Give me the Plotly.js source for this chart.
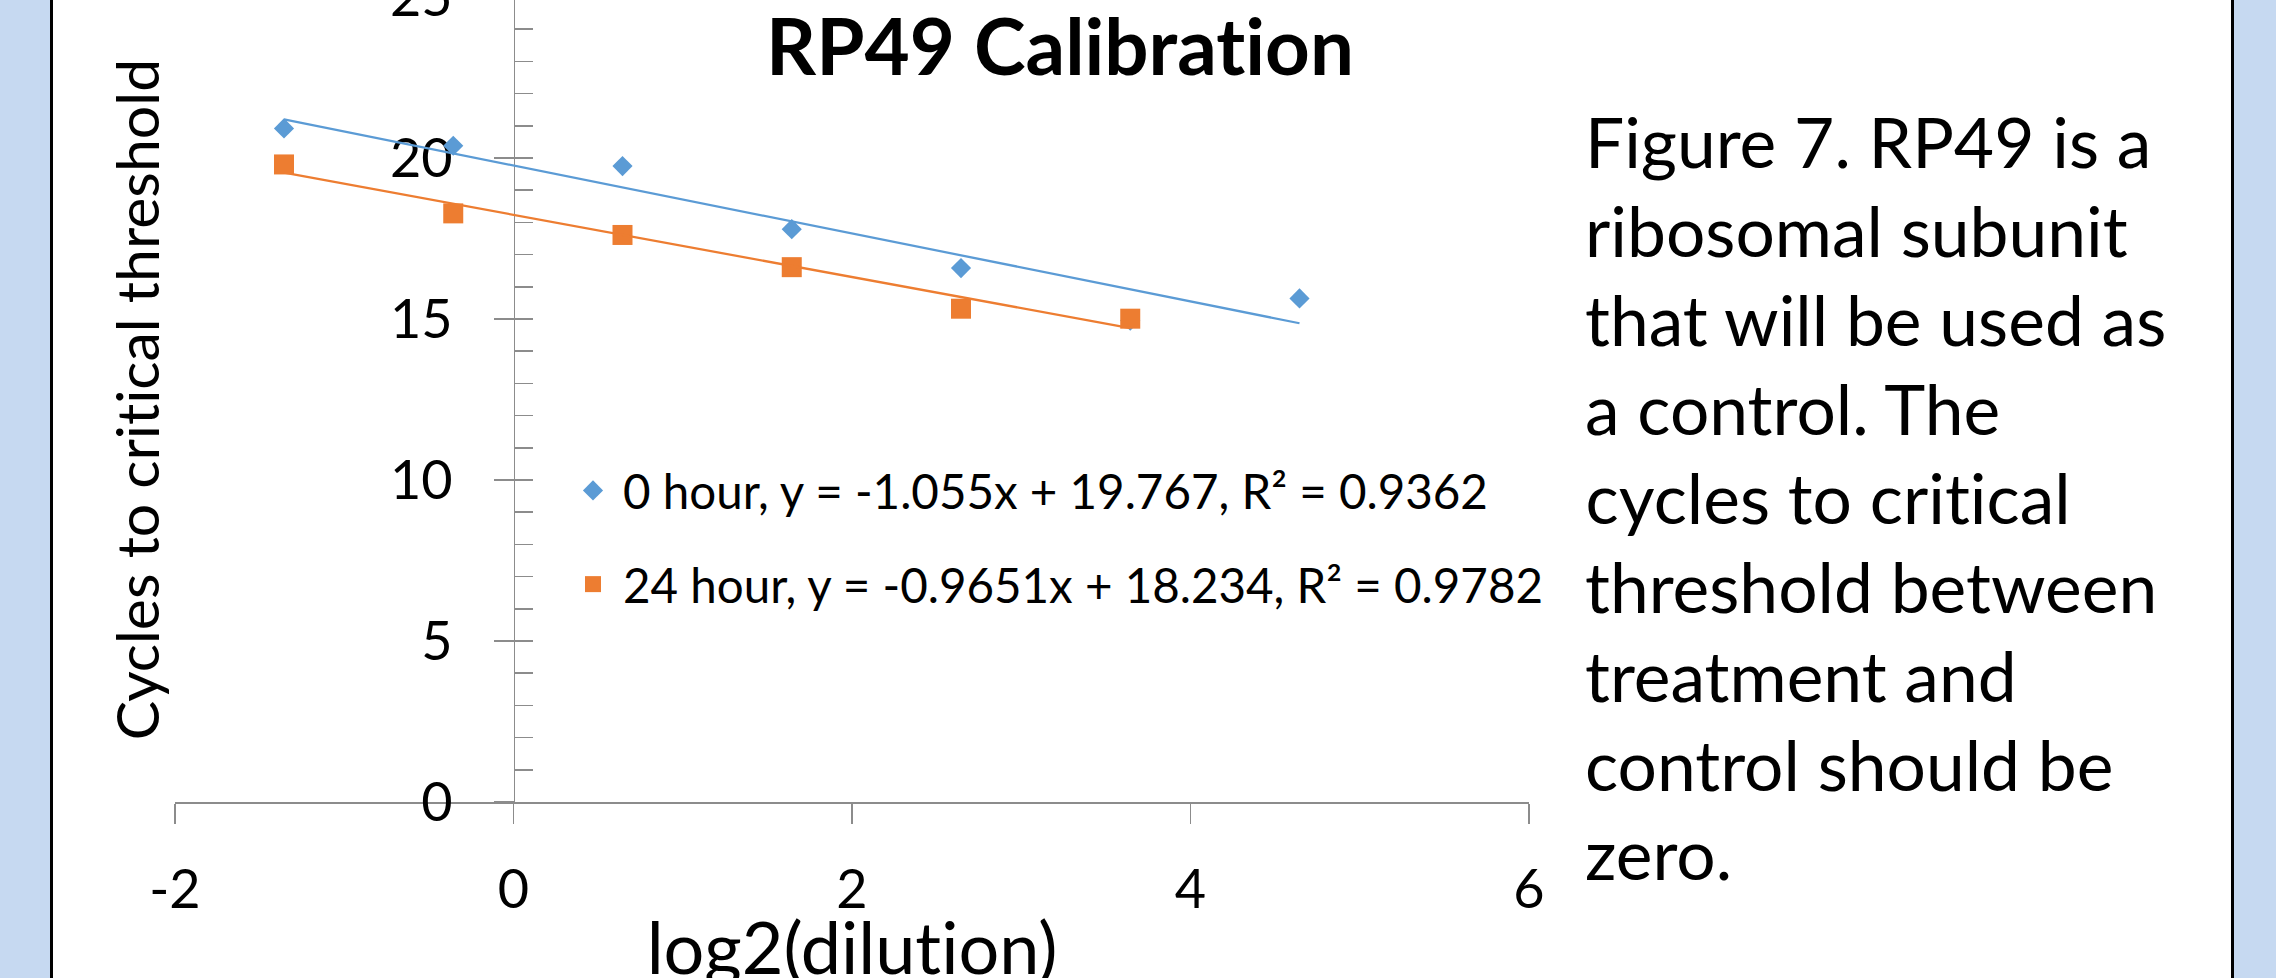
<!DOCTYPE html>
<html><head><meta charset="utf-8">
<script src="https://cdn.plot.ly/plotly-3.0.1.min.js"></script>
<style>
html,body{margin:0;padding:0;width:2276px;height:978px;overflow:hidden;background:#C6D9F1;}
#panel{position:absolute;left:50px;top:0;width:2184px;height:978px;background:#fff;border-left:3px solid #000;border-right:3px solid #000;box-sizing:border-box;}
#chart{position:absolute;left:0;top:-100px;width:2276px;height:1178px;}
#chart text{font-variant-ligatures:none;font-feature-settings:"liga" 0, "clig" 0;}
</style></head><body>
<div id="panel"></div><div id="chart"></div>
<script>
// ---- data ----
const seriesNames = ['0 hour', '24 hour'];
const x0h = [-1.356, -0.356, 0.644, 1.644, 2.644, 3.644, 4.644];
const ct0h = [20.92, 20.38, 19.75, 17.79, 16.58, 14.95, 15.64];
const x24h = [-1.356, -0.356, 0.644, 1.644, 2.644, 3.644];
const ct24h = [19.80, 18.28, 17.61, 16.61, 15.32, 15.01];
const slopes = [-1.055, -0.9651];
const intercepts = [19.767, 18.234];
const rSquared = [0.9362, 0.9782];
const xTickVals = [-2, 0, 2, 4, 6];
const xTickText = ['-2', '0', '2', '4', '6'];
const yTickVals = [0, 5, 10, 15, 20, 25];
const chartTitle = 'RP49 Calibration';
const xTitle = 'log2(dilution)';
const yTitle = 'Cycles to critical threshold';
const captionLines = ['Figure 7. RP49 is a', 'ribosomal subunit', 'that will be used as',
  'a control. The', 'cycles to critical', 'threshold between', 'treatment and',
  'control should be', 'zero.'];

// ---- layout helpers (page pixels -> paper fractions) ----
const OFF = 100, DIVH = 1178, PT = 97, PH = 805, PL = 175, PW = 1354;
const px = v => (v - PL) / PW;
const py = v => 1 - (v + OFF - PT) / PH;

const FONT = 'Lato, "Open Sans", sans-serif';
const blue = '#5B9BD5', orange = '#ED7D31', axisGray = '#8C8C8C';

const xs = [x0h, x24h], ys = [ct0h, ct24h], colors = [blue, orange];
const symbols = ['diamond', 'square'], sizes = [15.5, 20];
const traces = [];
// trendlines (from the stated equations) over each series' x-range
for (let i = 0; i < 2; i++) {
  const lo = Math.min(...xs[i]), hi = Math.max(...xs[i]);
  traces.push({x: [lo, hi], y: [slopes[i]*lo + intercepts[i], slopes[i]*hi + intercepts[i]],
    mode: 'lines', line: {color: colors[i], width: 2.25}, showlegend: false, hoverinfo: 'skip',
    xaxis: 'x', yaxis: 'y2'});
}
for (let i = 0; i < 2; i++) {
  traces.push({x: xs[i], y: ys[i], mode: 'markers', type: 'scatter',
    name: `${seriesNames[i]}, y = ${slopes[i]}x + ${intercepts[i]}, R² = ${rSquared[i]}`,
    legendgroup: 'g' + i,
    marker: {symbol: symbols[i], size: sizes[i], color: colors[i]}});
}
const annotations = captionLines.map((t, i) => ({
  text: t, xref: 'paper', yref: 'paper', x: px(1583), y: py(141 + 89*i),
  xanchor: 'left', yanchor: 'middle', showarrow: false,
  font: {family: FONT, size: 69.5, color: '#000'}
}));
// x-axis title, placed like the reference (partly cut by the bottom edge)
annotations.push({text: xTitle, xref: 'paper', yref: 'paper', x: 0.5, y: py(946),
  xanchor: 'center', yanchor: 'middle', showarrow: false,
  font: {family: FONT, size: 72, color: '#000'}});

const layout = {
  width: 2276, height: DIVH,
  margin: {l: PL, r: 2276 - PL - PW, t: PT, b: DIVH - PT - PH, pad: 0},
  paper_bgcolor: 'rgba(0,0,0,0)', plot_bgcolor: 'rgba(0,0,0,0)',
  font: {family: FONT, color: '#000'},
  title: {text: chartTitle, font: {family: FONT, size: 78, weight: 'bold', color: '#000'},
    x: 1060/2276, xanchor: 'center', xref: 'container',
    y: 1 - 120/DIVH, yanchor: 'top', yref: 'container'},
  showlegend: true,
  legend: {x: px(563), y: py(453), xanchor: 'left', yanchor: 'top',
    bgcolor: 'rgba(0,0,0,0)', borderwidth: 0, itemwidth: 50,
    traceorder: 'grouped', tracegroupgap: 29,
    font: {family: FONT, size: 47.5, color: '#000'}},
  xaxis: {range: [-2, 6], tickvals: xTickVals, ticktext: xTickText, ticks: 'outside', ticklen: 20, tickwidth: 1.5,
    tickcolor: axisGray, showline: true, linecolor: axisGray, linewidth: 1.5,
    showgrid: false, zeroline: false, tickfont: {size: 54}, ticklabelstandoff: 20,
    layer: 'below traces'},
  yaxis: {range: [0, 25], tickvals: yTickVals, ticks: 'outside', ticklen: 20, tickwidth: 1.5,
    tickcolor: axisGray, showline: true, linecolor: axisGray, linewidth: 1.5,
    anchor: 'free', position: 0.25, showgrid: false, zeroline: false,
    tickfont: {size: 54}, ticklabelstandoff: 30, layer: 'below traces',
    title: {text: yTitle, font: {size: 59}, standoff: 210}},
  yaxis2: {range: [0, 25], overlaying: 'y', matches: 'y', anchor: 'free', position: 0.25,
    dtick: 1, tick0: 0, ticks: 'inside', ticklen: 18, tickwidth: 1.5, tickcolor: axisGray,
    showticklabels: false, showline: false, showgrid: false, zeroline: false},
  annotations: annotations
};
Plotly.newPlot('chart', traces, layout, {staticPlot: true, displayModeBar: false});
</script></body></html>
